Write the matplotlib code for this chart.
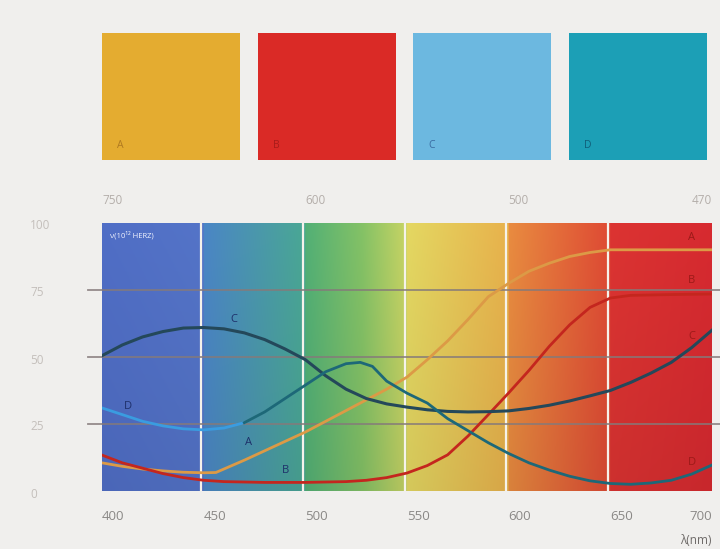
import numpy as np
import matplotlib
matplotlib.use("Agg")
import matplotlib.pyplot as plt
from matplotlib.patches import Rectangle
from matplotlib.colors import to_rgb

plt.rcParams['font.family'] = ['Open Sans', 'DejaVu Sans']

# Reflectance curves (percent) of four samples, wavelength in nm
wl_A = [400, 410, 420, 430, 440, 450, 456, 470, 480, 490, 500, 510, 520, 530, 540,
        550, 560, 570, 580, 590, 600, 610, 620, 630, 640, 650, 660, 680, 700]
val_A = [10.5, 9.2, 8.2, 7.5, 7.0, 6.8, 6.9, 11.5, 15, 18.5, 22, 26, 30, 34, 38,
         42.5, 49, 56, 64, 72.5, 77.5, 82, 85, 87.5, 89, 90, 90, 90, 90]

wl_B = [400, 410, 420, 430, 440, 450, 460, 480, 500, 520, 530, 540, 550, 560, 570,
        580, 590, 600, 610, 620, 630, 640, 650, 660, 680, 700]
val_B = [13.4, 10.5, 8.5, 6.5, 5, 4, 3.5, 3.2, 3.2, 3.5, 4, 5, 6.7, 9.5, 13.5,
         20.5, 28.5, 36.6, 45, 54, 62, 68.5, 72, 73, 73.3, 73.5]

wl_C = [400, 410, 420, 430, 440, 450, 460, 470, 480, 490, 500, 510, 520, 530, 540,
        550, 560, 570, 580, 590, 600, 610, 620, 630, 640, 650, 660, 670, 680, 690, 700]
val_C = [50.5, 54.5, 57.5, 59.5, 60.8, 61, 60.5, 59, 56.5, 53, 49, 43, 38, 34.5, 32.5,
         31.3, 30.3, 29.7, 29.5, 29.6, 29.9, 30.8, 32, 33.6, 35.5, 37.5, 40.5, 44, 48, 53.5, 60]

wl_D = [400, 410, 420, 430, 440, 450, 460, 470, 480, 490, 500, 510, 520, 527, 533, 540,
        550, 560, 570, 580, 590, 600, 610, 620, 630, 640, 650, 660, 670, 680, 690, 700]
val_D = [31, 28.5, 26, 24.3, 23.2, 22.8, 23.5, 25.5, 29.5, 34.5, 39.5, 44.5, 47.5, 48, 46.5, 41,
         36.5, 32.8, 27, 22.5, 18, 14, 10.5, 7.8, 5.5, 3.8, 2.8, 2.5, 3, 4, 6.3, 9.7]

sample_names = ["A", "B", "C", "D"]
sample_colors = ["#e4ac30", "#da2a26", "#6cb8e0", "#1c9fb6"]
sample_text = ["#b07a20", "#a81c1a", "#3a6aa0", "#10607a"]

wl_ticks = [400, 450, 500, 550, 600, 650, 700]
y_ticks = [0, 25, 50, 75, 100]
freq_pos = [400, 500, 600, 700]
freq_labels = ["750", "600", "500", "470"]

# Spectrum band colours: (wavelength, colour) stops
spectrum = [(400, "#506ec6"), (449.9, "#5474c8"), (450, "#4b86c6"), (499.9, "#4aa894"),
            (500, "#52b076"), (528, "#84c266"), (549.9, "#c8d464"), (550, "#e4d862"),
            (599.9, "#e8b24c"), (600, "#e98c40"), (649.9, "#df4a34"), (650, "#dc3432"),
            (700, "#d72a30")]

W, H = 720, 549
fig = plt.figure(figsize=(W / 100, H / 100), dpi=100)
fig.patch.set_facecolor("#f0efed")

L, R, T, B = 102, 712, 223, 491
ax = fig.add_axes([L / W, 1 - B / H, (R - L) / W, (B - T) / H])
ax.set_xlim(400, 700)
ax.set_ylim(0, 100)
for s in ax.spines.values():
    s.set_visible(False)
ax.set_xticks([])
ax.set_yticks([])

# spectrum background
xs = np.linspace(400, 700, 900)
sw = [p[0] for p in spectrum]
sc = np.array([to_rgb(p[1]) for p in spectrum])
rgb = np.stack([np.interp(xs, sw, sc[:, k]) for k in range(3)], axis=-1)
shade = np.linspace(0.93, 1.0, 60)[:, None, None]
img = np.clip(rgb[None, :, :] * shade, 0, 1)
ax.imshow(img, extent=[400, 700, 0, 100], aspect="auto", origin="lower", zorder=0)

# white band dividers
for w in wl_ticks[1:-1]:
    ax.axvline(w - 1.2, color="#f6f2ea", lw=1.6, zorder=1)

# grey grid lines reaching past the panel
x0 = (88 - L) / (R - L)
x1 = (720 - L) / (R - L)
for v in y_ticks[1:-1]:
    ax.axhline(v, xmin=x0, xmax=x1, color="#857a7a", lw=1.3, alpha=0.85,
               clip_on=False, zorder=2)

# curves
lw = 2.0
ax.plot(wl_A, val_A, color="#dc9a46", lw=lw, zorder=3)
ax.plot(wl_B, val_B, color="#c4261e", lw=lw, zorder=3)
ax.plot(wl_C, val_C, color="#24485a", lw=2.2, zorder=3)
k = wl_D.index(470)
ax.plot(wl_D[:k + 1], val_D[:k + 1], color="#3a9ce0", lw=lw, zorder=3)
ax.plot(wl_D[k:], val_D[k:], color="#1d6878", lw=lw, zorder=3)

# curve letters
left_lbl = {"A": (472, 18), "B": (490, 7.5), "C": (465, 64), "D": (413, 31.5)}
for n, (lx, ly) in left_lbl.items():
    ax.text(lx, ly, n, color="#1e2f6a", fontsize=8, ha="center", va="center", zorder=4)
right_lbl = {"A": 94.5, "B": 78.5, "C": 57.5, "D": 10.5}
for n, ly in right_lbl.items():
    ax.text(690, ly, n, color="#9c1a18", fontsize=8, ha="center",
            va="center", zorder=4)

ax.text(404, 95.5, "ν(10¹² HERZ)", color="#f2f4ff", fontsize=5.5,
        ha="left", va="center", zorder=4)

# left value labels
for v in y_ticks:
    yp = B - (B - T) * v / 100 + 3
    fig.text(30 / W, 1 - yp / H, str(v), fontsize=8.5,
             color="#c4bfbb", ha="left", va="center")

# wavelength labels
for w in wl_ticks:
    xp = L + (w - 400) / 300 * (R - L)
    ha = "right" if w == 700 else "left"
    fig.text(xp / W, 1 - 517 / H, str(w), fontsize=9.5, color="#8a8886",
             ha=ha, va="center")
fig.text(712 / W, 1 - 540 / H, "λ(nm)", fontsize=8.5, color="#6e6a68",
         ha="right", va="center")

# frequency labels
for w, t in zip(freq_pos, freq_labels):
    xp = L + (w - 400) / 300 * (R - L)
    ha = "right" if w == 700 else "left"
    fig.text(xp / W, 1 - 200 / H, t, fontsize=8.5, color="#b4aeaa",
             ha=ha, va="center")

# colour swatches
sq_x = [102, 258, 413, 569]
for xp, n, c, tc in zip(sq_x, sample_names, sample_colors, sample_text):
    fig.patches.append(Rectangle((xp / W, 1 - 160 / H), 138 / W, 127 / H,
                                 transform=fig.transFigure, facecolor=c,
                                 edgecolor="none"))
    fig.text((xp + 15) / W, 1 - 145 / H, n, fontsize=7.5, color=tc,
             ha="left", va="center")

fig.savefig("out.png", dpi=100, facecolor=fig.get_facecolor())
